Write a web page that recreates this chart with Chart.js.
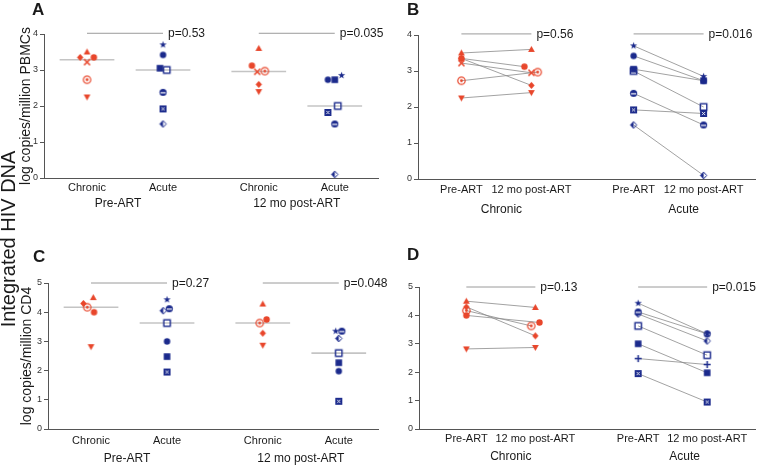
<!DOCTYPE html>
<html>
<head>
<meta charset="utf-8">
<script src="https://cdn.jsdelivr.net/npm/chart.js@4.4.1/dist/chart.umd.min.js"></script>
<style>
  body { margin: 0; background: #fff; }
  #fig { position: relative; width: 760px; height: 466px; overflow: hidden; font-family: "Liberation Sans", Arial, sans-serif; color: #1a1a1a; }
  canvas { position: absolute; }
  .letter { position: absolute; font-weight: bold; font-size: 17px; line-height: 17px; }
  #side { position: absolute; left: -142px; top: 228px; width: 300px; text-align: center; font-size: 20px; line-height: 22px; transform: rotate(-90deg); }
</style>
</head>
<body>
<div id="fig">
  <canvas id="chartA" width="400" height="230" style="left:0;top:0;width:400px;height:230px"></canvas>
  <canvas id="chartC" width="400" height="236" style="left:0;top:230px;width:400px;height:236px"></canvas>
  <canvas id="chartB" width="380" height="230" style="left:380px;top:0;width:380px;height:230px"></canvas>
  <canvas id="chartD" width="380" height="236" style="left:380px;top:230px;width:380px;height:236px"></canvas>
  <div class="letter" style="left:32px;top:1px">A</div>
  <div class="letter" style="left:407px;top:1px">B</div>
  <div class="letter" style="left:33px;top:248px">C</div>
  <div class="letter" style="left:407px;top:246px">D</div>
  <div id="side">Integrated HIV DNA</div>
</div>
<script>
// one entry per patient, same order in every array below
const chronicSymbols = ['triUp', 'dot', 'diamond', 'cross', 'target', 'triDown'];
const acuteSymbols   = ['star', 'dot', 'square', 'openSquare', 'halfCircle', 'boxX', 'halfDiamond'];
const acuteSymbolsD  = ['star', 'square', 'plus', 'openSquare', 'halfCircle', 'boxX', 'halfDiamond'];

// log copies / million PBMCs
const pbmcChronicPre  = [3.50, 3.35, 3.35, 3.22, 2.73, 2.25];
const pbmcChronicPost = [3.60, 3.12, 2.60, 2.95, 2.97, 2.40];
const pbmcAcutePre    = [3.70, 3.42, 3.05, 3.00, 2.38, 1.92, 1.50];
const pbmcAcutePost   = [2.85, 2.73, 2.73, 2.00, 1.50, 1.82, 0.10];

// log copies / million CD4
const cd4ChronicPre  = [4.50, 4.00, 4.30, null, 4.17, 2.82];
const cd4ChronicPost = [4.28, 3.75, 3.28, null, 3.63, 2.87];
const cd4AcutePre    = [4.43, 3.00, 2.48, 3.63, 4.12, 1.95, 4.05];
const cd4AcutePost   = [3.35, 1.98, 2.27, 2.60, 3.35, 0.95, 3.10];

const pValuesA = ['p=0.53', 'p=0.035'];
const pValuesB = ['p=0.56', 'p=0.016'];
const pValuesC = ['p=0.27', 'p=0.048'];
const pValuesD = ['p=0.13', 'p=0.015'];

const scatterTicks  = ['Chronic', 'Acute', 'Chronic', 'Acute'];
const scatterGroups = ['Pre-ART', '12 mo post-ART'];
const pairedTicks   = ['Pre-ART', '12 mo post-ART', 'Pre-ART', '12 mo post-ART'];
const pairedGroups  = ['Chronic', 'Acute'];
const yTicksPBMC = [0, 1, 2, 3, 4];
const yTicksCD4  = [0, 1, 2, 3, 4, 5];

const RED = '#e8462b', BLUE = '#1b2a8c';
const FONT = '"Liberation Sans", Arial, sans-serif';

// small horizontal nudges so overlapping markers stay visible (slot units)
const zero6 = [0, 0, 0, 0, 0, 0], zero7 = [0, 0, 0, 0, 0, 0, 0];
const jitterA = {
  chronicPre: [0, 0.09, -0.09, 0, 0, 0], acutePre: [0, 0, -0.04, 0.05, 0, 0, 0],
  chronicPost: [0, -0.09, 0, -0.02, 0.08, 0], acutePost: [0.09, -0.09, 0, 0.04, 0, -0.09, 0]
};
const jitterB = { chronicPre: zero6, acutePre: zero7, chronicPost: [0, -0.1, 0, 0, 0.09, 0], acutePost: zero7 };
const jitterC = {
  chronicPre: [0.03, 0.04, -0.1, 0, -0.05, 0], acutePre: [0, 0, 0, 0, 0.03, 0, -0.05],
  chronicPost: [0, 0.05, 0, 0, -0.04, 0], acutePost: [-0.04, 0, 0, 0, 0.04, 0, 0]
};
const jitterD = { chronicPre: zero6, acutePre: zero7, chronicPost: [0, 0.06, 0, 0, -0.06, 0], acutePost: zero7 };

function makeSymbol(kind, color) {
  const s = 11, m = s / 2;
  const c = document.createElement('canvas');
  c.width = s; c.height = s;
  const g = c.getContext('2d');
  g.fillStyle = color; g.strokeStyle = color; g.lineWidth = 1.3;
  g.beginPath();
  if (kind === 'triUp') {
    g.moveTo(m, m - 3.6); g.lineTo(m + 3.4, m + 2.6); g.lineTo(m - 3.4, m + 2.6); g.fill();
  } else if (kind === 'triDown') {
    g.moveTo(m, m + 3.6); g.lineTo(m + 3.4, m - 2.6); g.lineTo(m - 3.4, m - 2.6); g.fill();
  } else if (kind === 'dot') {
    g.arc(m, m, 3.2, 0, Math.PI * 2); g.fill();
  } else if (kind === 'diamond') {
    g.moveTo(m, m - 3.4); g.lineTo(m + 3.2, m); g.lineTo(m, m + 3.4); g.lineTo(m - 3.2, m); g.fill();
  } else if (kind === 'cross') {
    g.lineWidth = 1.6;
    g.moveTo(m - 3, m - 3); g.lineTo(m + 3, m + 3); g.moveTo(m + 3, m - 3); g.lineTo(m - 3, m + 3); g.stroke();
  } else if (kind === 'target') {
    g.lineWidth = 1.2; g.arc(m, m, 3.7, 0, Math.PI * 2); g.stroke();
    g.beginPath(); g.arc(m, m, 1.4, 0, Math.PI * 2); g.fill();
  } else if (kind === 'star') {
    for (let i = 0; i < 10; i++) {
      const r = i % 2 ? 1.5 : 3.8, a = -Math.PI / 2 + i * Math.PI / 5;
      g.lineTo(m + r * Math.cos(a), m + r * Math.sin(a));
    }
    g.fill();
  } else if (kind === 'square') {
    g.fillRect(m - 3.3, m - 3.3, 6.6, 6.6);
  } else if (kind === 'openSquare') {
    g.lineWidth = 1.4; g.strokeRect(m - 3.2, m - 3.2, 6.4, 6.4);
  } else if (kind === 'halfCircle') {
    g.arc(m, m, 3.6, 0, Math.PI * 2); g.fill();
    g.fillStyle = '#fff'; g.fillRect(m - 2.6, m - 0.2, 5.2, 1.2);
  } else if (kind === 'boxX') {
    g.fillRect(m - 3.5, m - 3.5, 7, 7);
    g.strokeStyle = '#fff'; g.lineWidth = 0.9; g.beginPath();
    g.moveTo(m - 1.6, m - 1.6); g.lineTo(m + 1.6, m + 1.6); g.moveTo(m + 1.6, m - 1.6); g.lineTo(m - 1.6, m + 1.6); g.stroke();
  } else if (kind === 'halfDiamond') {
    g.lineWidth = 1; g.moveTo(m, m - 3.4); g.lineTo(m + 3.2, m); g.lineTo(m, m + 3.4); g.lineTo(m - 3.2, m); g.closePath(); g.stroke();
    g.beginPath(); g.moveTo(m, m - 3.4); g.lineTo(m, m + 3.4); g.lineTo(m - 3.2, m); g.fill();
  } else if (kind === 'plus') {
    g.lineWidth = 1.5; g.moveTo(m - 3.5, m); g.lineTo(m + 3.5, m); g.moveTo(m, m - 3.5); g.lineTo(m, m + 3.5); g.stroke();
  }
  return c;
}

function median(values) {
  const v = values.filter(x => x != null).sort((a, b) => a - b);
  const h = Math.floor(v.length / 2);
  return v.length % 2 ? v[h] : (v[h - 1] + v[h]) / 2;
}

const panelText = {
  id: 'panelText',
  afterDraw(chart, args, opts) {
    if (!opts.slots) return;
    const ctx = chart.ctx, x = chart.scales.x, y = chart.scales.y;
    ctx.save();
    ctx.fillStyle = '#1a1a1a';
    ctx.font = '12px ' + FONT;
    ctx.textBaseline = 'middle';
    ctx.textAlign = 'left';
    opts.pLabels.forEach((t, i) => {
      ctx.fillText(t, x.getPixelForValue(opts.slots[2 * i + 1]) + 5, y.getPixelForValue(opts.pY) + 0.5);
    });
    ctx.textAlign = 'center';
    opts.groups.forEach((t, i) => {
      const cx = x.getPixelForValue((opts.slots[2 * i] + opts.slots[2 * i + 1]) / 2) + opts.groupDx[i];
      ctx.fillText(t, cx, y.bottom + opts.groupOffset);
    });
    ctx.restore();
  }
};
Chart.register(panelText);

function pLines(slots, pY) {
  return [0, 1].map(i => ({
    data: [{ x: slots[2 * i], y: pY }, { x: slots[2 * i + 1], y: pY }],
    showLine: true, borderColor: '#9a9a9a', borderWidth: 1, pointRadius: 0, clip: false, order: 2
  }));
}

function scatterSets(groups, slots, jit, pY) {
  const sets = [];
  groups.forEach((g, k) => {
    const j = jit[g.key];
    sets.push({
      data: g.values.map((v, i) => ({ x: slots[k] + j[i], y: v })),
      pointStyle: g.symbols.map(s => makeSymbol(s, g.color)),
      pointRadius: 4, showLine: false, order: 0
    });
    const med = median(g.values);
    sets.push({
      data: [{ x: slots[k] - 0.36, y: med }, { x: slots[k] + 0.36, y: med }],
      showLine: true, borderColor: '#c4c4c4', borderWidth: 1.6, pointRadius: 0, order: 1
    });
  });
  return sets.concat(pLines(slots, pY));
}

function pairedSets(pairs, slots, jit, pY) {
  const sets = [];
  pairs.forEach((p, k) => {
    const jPre = jit[p.preKey], jPost = jit[p.postKey];
    p.pre.forEach((v, i) => {
      if (v == null) return;
      const sym = makeSymbol(p.symbols[i], p.color);
      sets.push({
        data: [{ x: slots[2 * k] + jPre[i], y: v }, { x: slots[2 * k + 1] + jPost[i], y: p.post[i] }],
        showLine: true, borderColor: '#8a8a8a', borderWidth: 0.8,
        pointStyle: [sym, sym], pointRadius: 4, order: 0
      });
    });
  });
  return sets.concat(pLines(slots, pY));
}

function makeChart(id, o) {
  return new Chart(document.getElementById(id), {
    type: 'scatter',
    data: { datasets: o.datasets },
    options: {
      responsive: false, animation: false, events: [],
      layout: { padding: o.padding },
      plugins: {
        legend: { display: false }, tooltip: { enabled: false },
        panelText: { slots: o.slots, pLabels: o.pLabels, pY: o.pY, groups: o.groups, groupDx: o.groupDx, groupOffset: o.groupOffset }
      },
      scales: {
        x: {
          type: 'linear', min: o.xMin, max: o.xMax,
          afterBuildTicks: s => { s.ticks = o.slots.map(v => ({ value: v })); },
          afterFit: s => { s.height = o.xHeight; },
          ticks: { callback: (v, i) => o.tickLabels[i], font: { size: 11, family: FONT }, color: '#1a1a1a', padding: o.tickPad, maxRotation: 0, autoSkip: false },
          grid: { display: false, drawTicks: false },
          border: { color: '#555', width: 1 }
        },
        y: {
          min: 0, max: o.yTicks[o.yTicks.length - 1],
          afterBuildTicks: s => { s.ticks = o.yTicks.map(v => ({ value: v })); },
          afterFit: s => { s.width = o.yWidth; },
          ticks: { font: { size: 9, family: FONT }, color: '#333', padding: 2 },
          grid: { drawOnChartArea: false, drawTicks: true, tickLength: 4, color: '#555' },
          border: { color: '#555', width: 1 },
          title: { display: !!o.yTitle, text: o.yTitle, font: { size: 14, family: FONT }, color: '#1a1a1a', padding: { top: 3, bottom: 0 } }
        }
      }
    }
  });
}

const slotsA = [1, 2, 3.26, 4.26];
const slotsB = [1, 2, 3.46, 4.46];
const slotsD = [1, 2, 3.49, 4.49];

makeChart('chartA', {
  datasets: scatterSets([
    { key: 'chronicPre', values: pbmcChronicPre, symbols: chronicSymbols, color: RED },
    { key: 'acutePre', values: pbmcAcutePre, symbols: acuteSymbols, color: BLUE },
    { key: 'chronicPost', values: pbmcChronicPost, symbols: chronicSymbols, color: RED },
    { key: 'acutePost', values: pbmcAcutePost, symbols: acuteSymbols, color: BLUE }
  ], slotsA, jitterA, 4.02),
  slots: slotsA, xMin: 0.434, xMax: 4.829, tickLabels: scatterTicks, groups: scatterGroups, groupDx: [-7, 0],
  pLabels: pValuesA, pY: 4.02, yTicks: yTicksPBMC, yTitle: 'log copies/million PBMCs',
  padding: { left: 15, top: 34, right: 22, bottom: 0 }, yWidth: 29, xHeight: 52, tickPad: 3, groupOffset: 26
});

makeChart('chartB', {
  datasets: pairedSets([
    { preKey: 'chronicPre', postKey: 'chronicPost', pre: pbmcChronicPre, post: pbmcChronicPost, symbols: chronicSymbols, color: RED },
    { preKey: 'acutePre', postKey: 'acutePost', pre: pbmcAcutePre, post: pbmcAcutePost, symbols: acuteSymbols, color: BLUE }
  ], slotsB, jitterB, 4.03),
  slots: slotsB, xMin: 0.380, xMax: 5.197, tickLabels: pairedTicks, groups: pairedGroups, groupDx: [5, 15],
  pLabels: pValuesB, pY: 4.03, yTicks: yTicksPBMC, yTitle: '',
  padding: { left: 0, top: 35, right: 0, bottom: 0 }, yWidth: 38, xHeight: 51, tickPad: 4, groupOffset: 31
});

makeChart('chartC', {
  datasets: scatterSets([
    { key: 'chronicPre', values: cd4ChronicPre, symbols: chronicSymbols, color: RED },
    { key: 'acutePre', values: cd4AcutePre, symbols: acuteSymbols, color: BLUE },
    { key: 'chronicPost', values: cd4ChronicPost, symbols: chronicSymbols, color: RED },
    { key: 'acutePost', values: cd4AcutePost, symbols: acuteSymbols, color: BLUE }
  ], slotsA, jitterC, 5.0),
  slots: slotsA, xMin: 0.434, xMax: 4.776, tickLabels: scatterTicks, groups: scatterGroups, groupDx: [-2, 0],
  pLabels: pValuesC, pY: 5.0, yTicks: yTicksCD4, yTitle: 'log copies/million CD4',
  padding: { left: 16, top: 53, right: 22, bottom: 0 }, yWidth: 32, xHeight: 37, tickPad: 5, groupOffset: 30
});

makeChart('chartD', {
  datasets: pairedSets([
    { preKey: 'chronicPre', postKey: 'chronicPost', pre: cd4ChronicPre, post: cd4ChronicPost, symbols: chronicSymbols, color: RED },
    { preKey: 'acutePre', postKey: 'acutePost', pre: cd4AcutePre, post: cd4AcutePost, symbols: acuteSymbolsD, color: BLUE }
  ], slotsD, jitterD, 5.0),
  slots: slotsD, xMin: 0.314, xMax: 5.186, tickLabels: pairedTicks, groups: pairedGroups, groupDx: [10, 12],
  pLabels: pValuesD, pY: 5.0, yTicks: yTicksCD4, yTitle: '',
  padding: { left: 0, top: 57, right: 0, bottom: 0 }, yWidth: 39, xHeight: 37, tickPad: 3, groupOffset: 28
});
</script>
</body>
</html>
